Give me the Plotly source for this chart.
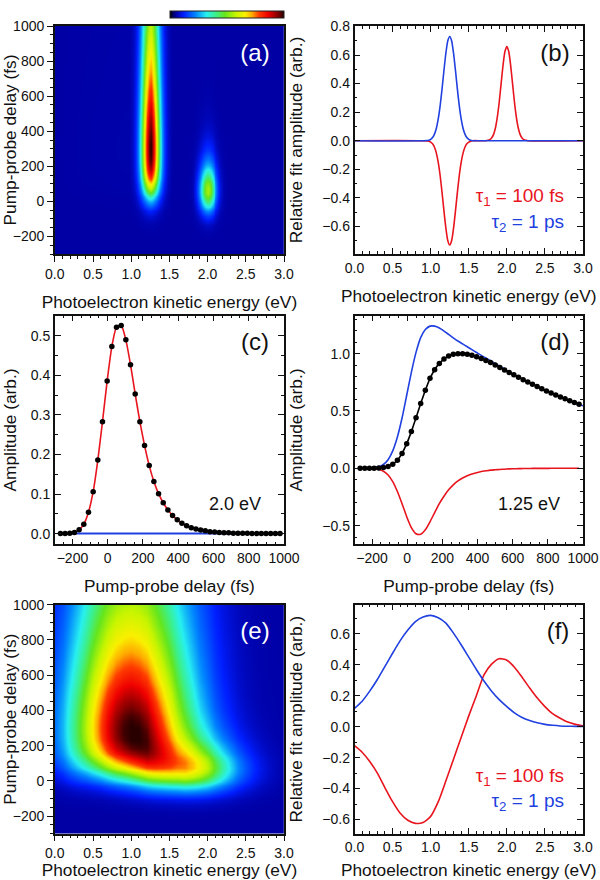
import numpy as np
import plotly.graph_objects as go

# Delay grid (fs): first/last entries close the axis range, the middle ones are the measured points
delay = [-300, -268, -241.5, -215, -188.5, -162, -135.5, -109, -82.5, -56, -29.5, -3, 23.5, 50, 76.5, 103,
         129.5, 156, 182.5, 209, 235.5, 262, 288.5, 315, 341.5, 368, 394.5, 421, 447.5, 474, 500.5,
         527, 553.5, 580, 606.5, 633, 659.5, 686, 712.5, 739, 765.5, 792, 818.5, 845, 871.5, 898,
         924.5, 951, 977.5, 1000]

# Panel (c), 2.0 eV
c_points = [0, 0, 0, .001, .003, .01, .024, .054, .106, .186, .283, .386, .473, .522, .526, .49, .427, .353,
            .283, .223, .172, .132, .101, .078, .06, .046, .035, .026, .02, .015, .012, .009, .007,
            .005, .004, .003, .002, .002, .001, .001, .001, .001, 0, 0, 0, 0, 0, 0, 0, 0]

# Panel (d), 1.25 eV
d_points = [0, 0, 0, 0, .001, .002, .007, .016, .036, .07, .13, .215, .32, .44, .565, .68, .785, .86, .915,
            .953, .98, .994, 1.0, 1.0, .994, .985, .972, .957, .94, .922, .902, .88, .858, .836, .815,
            .795, .773, .752, .733, .713, .693, .675, .657, .64, .622, .606, .59, .574, .558, .545]
d_red = [0, 0, 0, -.001, -.003, -.011, -.026, -.059, -.116, -.203, -.309, -.422, -.517, -.571, -.575, -.536,
         -.467, -.386, -.309, -.244, -.188, -.144, -.11, -.085, -.066, -.05, -.038, -.028, -.022,
         -.016, -.013, -.01, -.008, -.005, -.004, -.003, -.002, -.002, -.001, -.001, -.001, -.001,
         0, 0, 0, 0, 0, 0, 0, 0]
d_blue = [0, 0, 0, .001, .004, .013, .033, .075, .152, .273, .439, .637, .837, 1.011, 1.14, 1.21, 1.24, 1.24,
          1.224, 1.197, 1.168, 1.138, 1.11, 1.085, 1.06, 1.035, 1.01, .985, .962, .938, .915, .89,
          .866, .841, .819, .798, .775, .754, .734, .714, .694, .676, .657, .64, .622, .606, .59,
          .574, .558, .545]

# Panel (b) spectra
energy_b = [0, .975, 1.0, 1.025, 1.05, 1.075, 1.1, 1.125, 1.15, 1.175, 1.2, 1.225, 1.25, 1.275, 1.3, 1.325,
            1.35, 1.375, 1.4, 1.425, 1.45, 1.475, 1.5, 1.525, 1.55, 1.725, 1.75, 1.775, 1.8, 1.825,
            1.85, 1.875, 1.9, 1.925, 1.95, 1.975, 2.0, 2.025, 2.05, 2.075, 2.1, 2.125, 2.15, 2.175,
            2.2, 2.225, 2.25, 2.275, 3.0]
b_blue = [0, .003, .01, .022, .046, .087, .154, .247, .365, .495, .614, .70, .73, .70, .614, .495, .365, .247,
          .154, .087, .046, .022, .01, .003, 0, 0, 0, 0, 0, 0, 0, 0, 0, 0, 0, 0, 0, 0, 0, 0, 0, 0, 0,
          0, 0, 0, 0, 0, 0]
b_red = [0, -.003, -.01, -.022, -.046, -.087, -.154, -.247, -.365, -.495, -.614, -.70, -.73, -.70, -.614,
         -.495, -.365, -.247, -.154, -.087, -.046, -.022, -.01, -.003, 0, 0, .003, .007, .019, .043,
         .089, .165, .271, .40, .528, .624, .66, .624, .528, .40, .271, .165, .089, .043, .019, .007,
         .003, 0, 0]

# Panel (f) spectra
energy_f = [0, .1, .2, .3, .4, .5, .6, .7, .8, .9, 1.0, 1.1, 1.2, 1.3, 1.4, 1.5, 1.6, 1.7, 1.8, 1.9, 2.0, 2.1,
            2.2, 2.3, 2.4, 2.5, 2.6, 2.7, 2.8, 2.9, 3.0]
f_blue = [.118, .165, .23, .305, .39, .475, .557, .625, .68, .71, .72, .705, .67, .605, .53, .45, .37, .295,
          .23, .175, .13, .09, .06, .04, .025, .015, .009, .005, .003, .002, .001]
f_red = [-.123, -.165, -.225, -.30, -.395, -.485, -.56, -.605, -.625, -.62, -.58, -.485, -.35, -.21, -.07, .07,
         .2, .335, .405, .44, .43, .385, .32, .25, .185, .13, .085, .055, .03, .015, .005]

colorbar_ticks = [0.0, 0.2, 0.4, 0.6, 0.8, 1.0]
map_floor = 0.055

RED = "#e8141e"
BLUE = "#2040e0"
BLACK = "#000000"
INK = "#111111"
FONT = "Liberation Sans"

# The maps are the panel spectra combined with the 1.25 eV decay traces
rise_fast = np.array(d_red) / -0.73
rise_slow = np.array(d_blue) / 0.73
raw_a = np.clip(np.outer(rise_fast, b_red) + np.outer(rise_slow, b_blue), 0, 1)
raw_e = np.clip(np.outer(rise_fast, f_red) + np.outer(rise_slow, f_blue), 0, 1)
map_a = (raw_a * (1 - map_floor) + map_floor).round(4).tolist()
map_e = (raw_e * (1 - map_floor) + map_floor).round(4).tolist()

map_scale = [[0, "rgb(0,0,0)"], [.03, "rgb(0,0,110)"], [map_floor, "rgb(0,0,165)"],
             [.12, "rgb(0,30,255)"], [.22, "rgb(0,130,255)"], [.32, "rgb(40,240,240)"],
             [.40, "rgb(60,240,140)"], [.48, "rgb(100,230,30)"], [.58, "rgb(200,245,0)"],
             [.66, "rgb(250,240,0)"], [.72, "rgb(255,170,0)"], [.78, "rgb(255,60,0)"],
             [.86, "rgb(240,0,0)"], [.94, "rgb(140,0,0)"], [1.0, "rgb(40,0,0)"]]

W, H = 600, 880
fig = go.Figure()
frames = {}


def axes(n, px, xr, yr, xmaj, xmin, xfmt, ymaj, ymin, yfmt, tk, xmirror, ymirror, xtitle, ytitle):
    x0, x1, y0, y1 = px
    frames[n] = (px, xr, yr)
    common = dict(showgrid=False, zeroline=False, showline=True, linecolor=INK, linewidth=1.5, ticks=tk,
                  ticklen=6, tickwidth=1.3, tickcolor=INK, tick0=0, automargin=False,
                  tickfont=dict(family=FONT, size=14, color=INK))
    minor = dict(ticks=tk, ticklen=3, tickwidth=1.2, tickcolor=INK, tick0=0, showgrid=False)
    tf = dict(family=FONT, size=17.3, color=INK)
    fig.layout[f"xaxis{n}"] = dict(domain=[x0 / W, x1 / W], range=xr, dtick=xmaj, anchor=f"y{n}", tickformat=xfmt,
                                   minor=dict(dtick=xmin, **minor), mirror=xmirror,
                                   title=dict(text=xtitle, font=tf), **common)
    fig.layout[f"yaxis{n}"] = dict(domain=[1 - y1 / H, 1 - y0 / H], range=yr, dtick=ymaj, anchor=f"x{n}", tickformat=yfmt,
                                   minor=dict(dtick=ymin, **minor), mirror=ymirror,
                                   title=dict(text=ytitle, font=tf), **common)


KE = "Photoelectron kinetic energy (eV)"
PD = "Pump-probe delay (fs)"
RF = "Relative fit amplitude (arb.)"
AM = "Amplitude (arb.)"
X_L, X_R = (54.8, 284), (354.5, 583)
axes(1, (*X_L, 26, 254), [0, 3], [-300, 1000], .5, .1, ".1f", 200, 50, "d", "outside", True, True, KE, PD)
axes(2, (*X_R, 26, 254), [0, 3], [-.793, .803], .5, .1, ".1f", .2, .1, ".1f", "inside", "allticks", "allticks", KE, RF)
axes(3, (*X_L, 315.7, 544.3), [-300, 1000], [-.027, .551], 200, 50, "d", .1, .05, ".1f", "inside", "allticks", "allticks", PD, AM)
axes(4, (*X_R, 315.7, 544.3), [-300, 1000], [-.663, 1.331], 200, 50, "d", .5, .1, ".1f", "inside", "allticks", "allticks", PD, AM)
axes(5, (*X_L, 604.7, 833.7), [0, 3], [-300, 1000], .5, .1, ".1f", 200, 50, "d", "outside", True, True, KE, PD)
axes(6, (*X_R, 604.7, 833.7), [0, 3], [-.692, .789], .5, .1, ".1f", .2, .1, ".1f", "inside", "allticks", "allticks", KE, RF)

bar = dict(orientation="h", x=170 / W, xanchor="left", y=1 - 19 / H, yanchor="bottom", len=114 / W, lenmode="fraction",
           thickness=7, thicknessmode="pixels", xpad=0, ypad=0, outlinewidth=1, outlinecolor="#222222",
           borderwidth=0, ticks="", showticklabels=False)
fig.add_trace(go.Heatmap(x=energy_b, y=delay, z=map_a, zmin=0, zmax=1, colorscale=map_scale, zsmooth="best",
                         showscale=True, colorbar=bar, xaxis="x", yaxis="y"))
fig.add_trace(go.Heatmap(x=energy_f, y=delay, z=map_e, zmin=0, zmax=1, colorscale=map_scale, zsmooth="best",
                         showscale=False, xaxis="x5", yaxis="y5"))


def line(x, y, color, ax, width=1.6):
    fig.add_trace(go.Scatter(x=x, y=y, mode="lines", line=dict(color=color, width=width, shape="spline", smoothing=.6),
                             xaxis=f"x{ax}", yaxis=f"y{ax}", showlegend=False))


line(energy_b, b_red, RED, 2)
line(energy_b, b_blue, BLUE, 2)

pts_t = delay[1:-1]
line(pts_t, [0] * len(pts_t), BLUE, 3, 2)
line(pts_t, c_points[1:-1], RED, 3)
fig.add_trace(go.Scatter(x=pts_t, y=c_points[1:-1], mode="markers", marker=dict(color=BLACK, size=5.5),
                         xaxis="x3", yaxis="y3", showlegend=False))

line(pts_t, d_red[1:-1], RED, 4)
line(delay[1:], d_blue[1:], BLUE, 4)
line(pts_t, d_points[1:-1], BLACK, 4)
fig.add_trace(go.Scatter(x=pts_t, y=d_points[1:-1], mode="markers", marker=dict(color=BLACK, size=5.5),
                         xaxis="x4", yaxis="y4", showlegend=False))

line(energy_f, f_red, RED, 6)
line(energy_f, f_blue, BLUE, 6)


def label(n, text, px, py, size, color=INK, pos="middle center"):
    (x0, x1, y0, y1), xr, yr = frames[n]
    xv = xr[0] + (px - x0) / (x1 - x0) * (xr[1] - xr[0])
    yv = yr[0] + (y1 - py) / (y1 - y0) * (yr[1] - yr[0])
    fig.add_trace(go.Scatter(x=[xv], y=[yv], mode="text", text=[text], textposition=pos, cliponaxis=False,
                             textfont=dict(family=FONT, size=size, color=color), hoverinfo="skip",
                             xaxis=f"x{n}", yaxis=f"y{n}", showlegend=False))


for tick, px in zip(colorbar_ticks, [170, 192.8, 215.6, 238.4, 261.2, 284]):
    label(1, f"{tick:.1f}", px, 5.7, 10.5)

label(1, "(a)", 255, 55, 24, "white")
label(2, "(b)", 555, 55, 24)
label(3, "(c)", 255, 344, 24)
label(4, "(d)", 555, 344, 24)
label(5, "(e)", 255, 633, 24, "white")
label(6, "(f)", 558, 633, 24)
label(3, "2.0 eV", 235, 506, 18)
label(4, "1.25 eV", 529, 506, 18)
label(2, "τ<sub>1</sub> = 100 fs", 564, 197, 19, RED, "middle left")
label(2, "τ<sub>2</sub> = 1 ps", 564, 223, 19, BLUE, "middle left")
label(6, "τ<sub>1</sub> = 100 fs", 564, 777, 19, RED, "middle left")
label(6, "τ<sub>2</sub> = 1 ps", 564, 802, 19, BLUE, "middle left")

fig.update_layout(width=W, height=H, autosize=False,
                  margin=dict(l=0, r=0, t=0, b=0, autoexpand=False), showlegend=False,
                  paper_bgcolor="white", plot_bgcolor="white", font=dict(family=FONT))
fig.write_html("out.html", config=dict(displayModeBar=False))

with open("out.html", encoding="utf-8") as fh:
    page = fh.read()
page = page.replace("<body>", '<body style="margin:0;overflow:hidden">', 1)
with open("out.html", "w", encoding="utf-8") as fh:
    fh.write(page)
